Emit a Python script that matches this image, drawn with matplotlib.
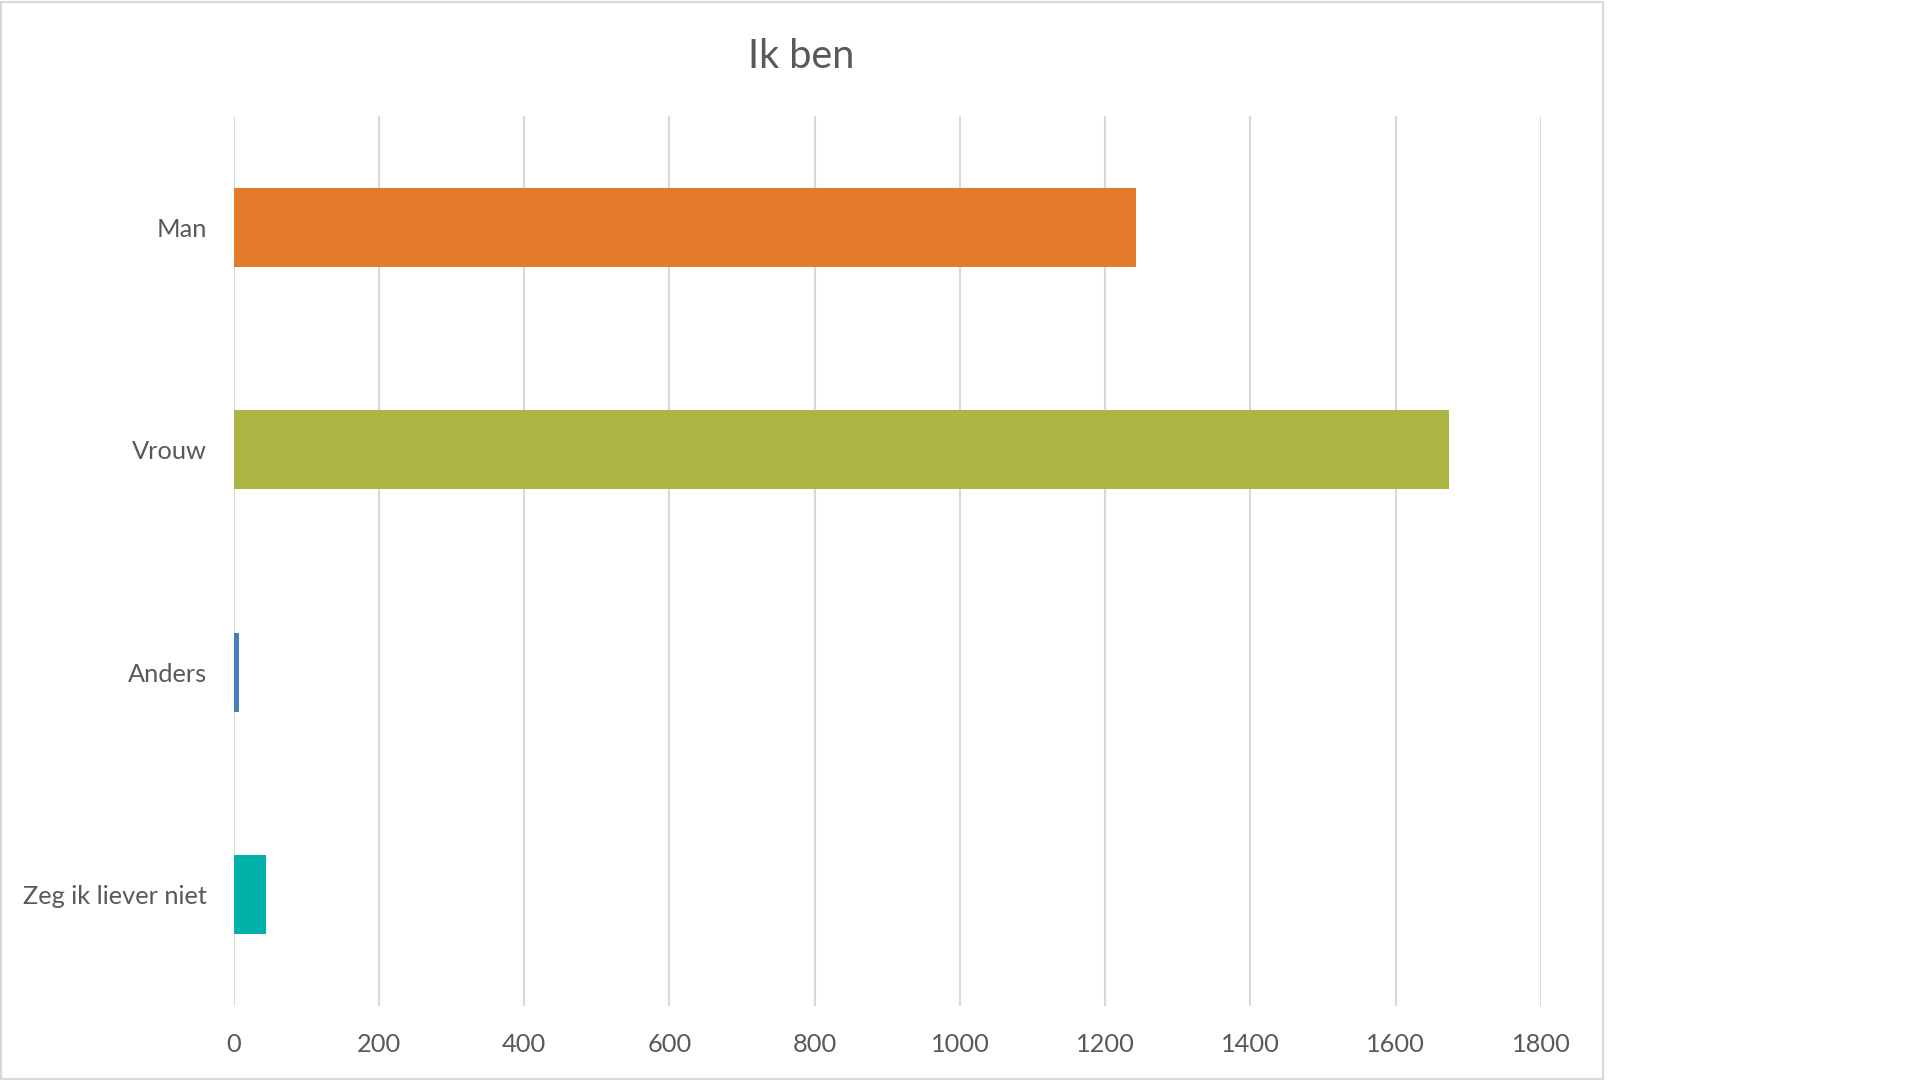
import matplotlib.pyplot as plt
from matplotlib.patches import Rectangle

# data
categories = ["Man", "Vrouw", "Anders", "Zeg ik liever niet"]
values = [1243, 1674, 7, 45]
colors = ["#E47B2C", "#AEB643", "#4A7DBA", "#00B1A9"]
xticks = [0, 200, 400, 600, 800, 1000, 1200, 1400, 1600, 1800]

plt.rcParams['font.family'] = ['Lato', 'DejaVu Sans']
text_col = "#595959"

fig = plt.figure(figsize=(19.2, 10.8), dpi=100)
fig.patch.set_facecolor("white")

# chart area frame
fig.add_artist(Rectangle((1 / 1920, 1 / 1080), 1602 / 1920, 1077 / 1080,
                         transform=fig.transFigure, fill=False,
                         edgecolor="#D9D9D9", linewidth=1.5))

ax = fig.add_axes([0.1217, 0.0685, 0.6809, 0.8241])
pos = list(range(len(categories)))
ax.barh(pos, values, height=0.355, color=colors, zorder=3)

ax.set_xlim(0, 1800)
ax.set_ylim(len(categories) - 0.5, -0.5)
ax.set_xticks(xticks)
ax.set_xticklabels([str(v) for v in xticks])
ax.set_yticks(pos)
ax.set_yticklabels(categories)
ax.tick_params(axis="both", length=0, labelsize=18.3, labelcolor=text_col)
ax.tick_params(axis="x", pad=19.5)
ax.tick_params(axis="y", pad=19)
for s in ax.spines.values():
    s.set_visible(False)
ax.grid(axis="x", color="#D9D9D9", linewidth=1.5, zorder=0)
ax.set_axisbelow(True)

fig.text(801.5 / 1920, 1 - 56 / 1080, "Ik ben", ha="center", va="center",
         fontsize=28.5, color=text_col)

fig.savefig("out.png", dpi=100)
